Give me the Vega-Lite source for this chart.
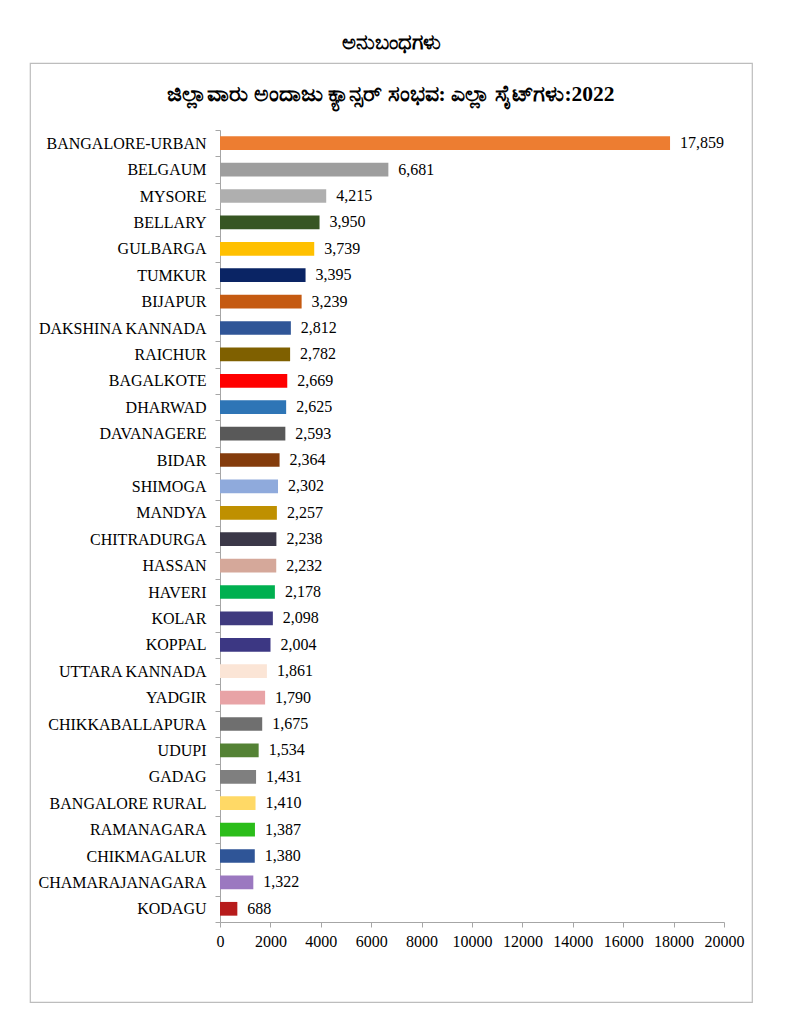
{
  "$schema": "https://vega.github.io/schema/vega-lite/v6.json",
  "width": 722,
  "height": 939,
  "autosize": {"type": "none"},
  "padding": {"left": 30, "top": 63, "right": 35, "bottom": 21},
  "background": "white",
  "title": {
    "text": "ಅನುಬಂಧಗಳು",
    "subtitle": "ಜಿಲ್ಲಾವಾರು ಅಂದಾಜು ಕ್ಯಾನ್ಸರ್ ಸಂಭವ: ಎಲ್ಲಾ ಸೈಟ್‌ಗಳು:2022",
    "anchor": "middle",
    "frame": "group",
    "orient": "top",
    "offset": -50,
    "font": "Liberation Serif",
    "fontSize": 20.5,
    "fontWeight": "bold",
    "color": "#000000",
    "subtitleFont": "Liberation Serif",
    "subtitleFontSize": 21.5,
    "subtitleFontWeight": "bold",
    "subtitleColor": "#000000",
    "subtitlePadding": 30
  },
  "config": {
    "view": {"stroke": "#bdbdbd", "strokeWidth": 1.2},
    "font": "Liberation Serif"
  },
  "data": {
    "values": [
      {"district": "BANGALORE-URBAN", "cases": 17859},
      {"district": "BELGAUM", "cases": 6681},
      {"district": "MYSORE", "cases": 4215},
      {"district": "BELLARY", "cases": 3950},
      {"district": "GULBARGA", "cases": 3739},
      {"district": "TUMKUR", "cases": 3395},
      {"district": "BIJAPUR", "cases": 3239},
      {"district": "DAKSHINA KANNADA", "cases": 2812},
      {"district": "RAICHUR", "cases": 2782},
      {"district": "BAGALKOTE", "cases": 2669},
      {"district": "DHARWAD", "cases": 2625},
      {"district": "DAVANAGERE", "cases": 2593},
      {"district": "BIDAR", "cases": 2364},
      {"district": "SHIMOGA", "cases": 2302},
      {"district": "MANDYA", "cases": 2257},
      {"district": "CHITRADURGA", "cases": 2238},
      {"district": "HASSAN", "cases": 2232},
      {"district": "HAVERI", "cases": 2178},
      {"district": "KOLAR", "cases": 2098},
      {"district": "KOPPAL", "cases": 2004},
      {"district": "UTTARA KANNADA", "cases": 1861},
      {"district": "YADGIR", "cases": 1790},
      {"district": "CHIKKABALLAPURA", "cases": 1675},
      {"district": "UDUPI", "cases": 1534},
      {"district": "GADAG", "cases": 1431},
      {"district": "BANGALORE RURAL", "cases": 1410},
      {"district": "RAMANAGARA", "cases": 1387},
      {"district": "CHIKMAGALUR", "cases": 1380},
      {"district": "CHAMARAJANAGARA", "cases": 1322},
      {"district": "KODAGU", "cases": 688}
    ]
  },
  "encoding": {
    "y": {
      "field": "district",
      "type": "nominal",
      "sort": null,
      "scale": {"range": [67, 859], "paddingInner": 0, "paddingOuter": 0},
      "axis": {
        "title": null,
        "offset": -190,
        "tickBand": "extent",
        "tickSize": 5,
        "labelPadding": 9,
        "domainColor": "#a6a6a6",
        "tickColor": "#a6a6a6",
        "labelFont": "Liberation Serif",
        "labelFontSize": 16,
        "labelColor": "#000000",
        "labelLimit": 300,
        "grid": false
      }
    },
    "x": {
      "field": "cases",
      "type": "quantitative",
      "scale": {"domain": [0, 20000], "range": [190, 694], "nice": false},
      "axis": {
        "title": null,
        "offset": -80,
        "values": [0, 2000, 4000, 6000, 8000, 10000, 12000, 14000, 16000, 18000, 20000],
        "format": "d",
        "tickSize": 5,
        "labelPadding": 6,
        "domainColor": "#a6a6a6",
        "tickColor": "#a6a6a6",
        "labelFont": "Liberation Serif",
        "labelFontSize": 16,
        "labelColor": "#000000",
        "labelFlush": false,
        "labelOverlap": false,
        "grid": false
      }
    }
  },
  "layer": [
    {
      "mark": {"type": "bar", "height": {"band": 0.52}},
      "encoding": {
        "color": {
          "field": "district",
          "type": "nominal",
          "legend": null,
          "scale": {
            "domain": ["BANGALORE-URBAN", "BELGAUM", "MYSORE", "BELLARY", "GULBARGA", "TUMKUR", "BIJAPUR", "DAKSHINA KANNADA", "RAICHUR", "BAGALKOTE", "DHARWAD", "DAVANAGERE", "BIDAR", "SHIMOGA", "MANDYA", "CHITRADURGA", "HASSAN", "HAVERI", "KOLAR", "KOPPAL", "UTTARA KANNADA", "YADGIR", "CHIKKABALLAPURA", "UDUPI", "GADAG", "BANGALORE RURAL", "RAMANAGARA", "CHIKMAGALUR", "CHAMARAJANAGARA", "KODAGU"],
            "range": ["#ED7D31", "#9E9E9E", "#AFAFAF", "#375623", "#FFC000", "#0A2464", "#C55A11", "#2F5597", "#7F6000", "#FF0000", "#2E75B6", "#595959", "#843C0C", "#8FAADC", "#BF9000", "#3B3848", "#D5A89A", "#00B050", "#3F3A7F", "#3C3783", "#FBE5D6", "#E8A3A6", "#6F6F6F", "#548235", "#7F7F7F", "#FFD966", "#2BBD1A", "#2F5597", "#9B78C0", "#B71C1C"]
          }
        }
      }
    },
    {
      "mark": {"type": "text", "align": "left", "baseline": "middle", "dx": 10, "font": "Liberation Serif", "fontSize": 16, "color": "#000000"},
      "encoding": {
        "text": {"field": "cases", "type": "quantitative", "format": ","}
      }
    }
  ]
}
